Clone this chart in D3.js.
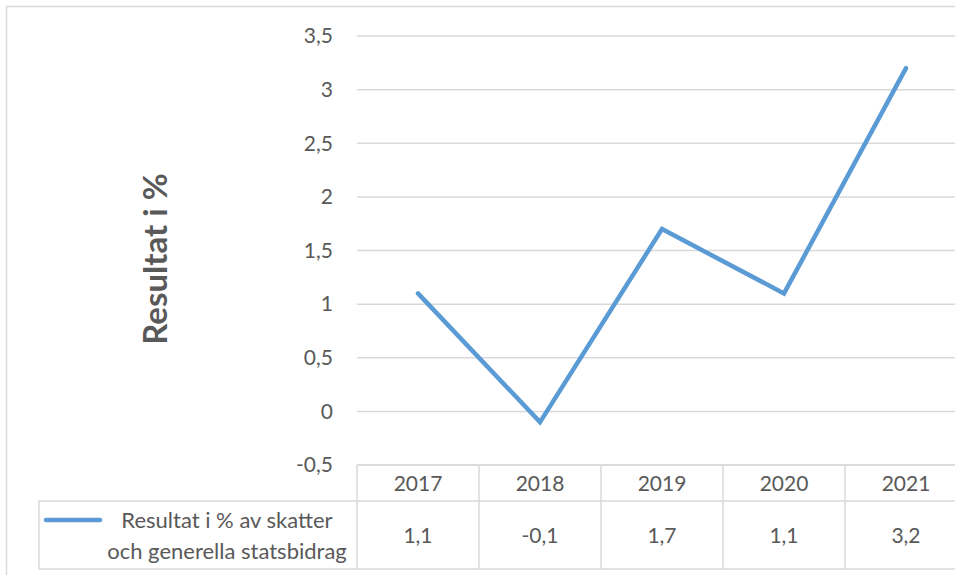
<!DOCTYPE html>
<html>
<head>
<meta charset="utf-8">
<script src="https://cdn.jsdelivr.net/npm/d3@7"></script>
<style>
  body { margin: 0; background: #fff; }
  svg { display: block; font-family: Lato, "Open Sans", sans-serif; }
</style>
</head>
<body>
<svg width="955" height="575"></svg>
<script>
const years = ["2017", "2018", "2019", "2020", "2021"];
const values = [1.1, -0.1, 1.7, 1.1, 3.2];
const valueLabels = ["1,1", "-0,1", "1,7", "1,1", "3,2"];
const yTicks = [-0.5, 0, 0.5, 1, 1.5, 2, 2.5, 3, 3.5];
const seriesName = ["Resultat i % av skatter", "och generella statsbidrag"];

const svg = d3.select("svg");
const grey = "#d9d9d9";
const textColor = "#595959";
const blue = "#5b9bd5";
const fs = 21;

// chart frame
svg.append("rect")
    .attr("x", 6.5).attr("y", 6.5)
    .attr("width", 1000).attr("height", 1000)
    .attr("fill", "none").attr("stroke", grey).attr("stroke-width", 1.5);

const plotLeft = 357, plotTop = 36, plotBottom = 465;
const band = 122;

const x = d3.scaleBand()
    .domain(years)
    .range([plotLeft, plotLeft + band * years.length]);

const y = d3.scaleLinear()
    .domain([-0.5, 3.5])
    .range([plotBottom, plotTop]);

// gridlines
svg.append("g")
    .selectAll("line")
    .data(yTicks)
    .enter().append("line")
    .attr("x1", plotLeft).attr("x2", x.range()[1])
    .attr("y1", d => y(d)).attr("y2", d => y(d))
    .attr("stroke", grey).attr("stroke-width", 1.5);

// y tick labels
svg.append("g")
    .selectAll("text")
    .data(yTicks)
    .enter().append("text")
    .attr("x", 333)
    .attr("y", d => y(d))
    .attr("dy", "0.35em")
    .attr("text-anchor", "end")
    .attr("font-size", fs)
    .attr("fill", textColor)
    .text(d => String(d).replace(".", ","));

// y title
svg.append("text")
    .attr("transform", "translate(167,259) rotate(-90)")
    .attr("text-anchor", "middle")
    .attr("font-size", 33)
    .attr("font-weight", "bold")
    .attr("fill", textColor)
    .text("Resultat i %");

// line
const line = d3.line()
    .x((d, i) => x(years[i]) + x.bandwidth() / 2)
    .y(d => y(d));

svg.append("path")
    .datum(values)
    .attr("d", line)
    .attr("fill", "none")
    .attr("stroke", blue)
    .attr("stroke-width", 4.5)
    .attr("stroke-linejoin", "miter")
    .attr("stroke-linecap", "round");

// data table
const rowTop = 501, rowBottom = 569, tableLeft = 39;
const table = svg.append("g")
    .attr("stroke", grey).attr("stroke-width", 1.5).attr("fill", "none");

table.append("line").attr("x1", plotLeft).attr("x2", x.range()[1])
    .attr("y1", plotBottom).attr("y2", plotBottom);
table.append("line").attr("x1", tableLeft).attr("x2", x.range()[1])
    .attr("y1", rowTop).attr("y2", rowTop);
table.append("line").attr("x1", tableLeft).attr("x2", x.range()[1])
    .attr("y1", rowBottom).attr("y2", rowBottom);
table.append("line").attr("x1", tableLeft).attr("x2", tableLeft)
    .attr("y1", rowTop).attr("y2", rowBottom);
table.selectAll(".col")
    .data(years.concat(["end"]))
    .enter().append("line")
    .attr("x1", (d, i) => plotLeft + band * i).attr("x2", (d, i) => plotLeft + band * i)
    .attr("y1", plotBottom).attr("y2", rowBottom);

svg.append("g")
    .selectAll("text")
    .data(years)
    .enter().append("text")
    .attr("x", d => x(d) + x.bandwidth() / 2)
    .attr("y", (plotBottom + rowTop) / 2 + 1)
    .attr("dy", "0.35em")
    .attr("text-anchor", "middle")
    .attr("font-size", fs)
    .attr("fill", textColor)
    .text(d => d);

svg.append("g")
    .selectAll("text")
    .data(valueLabels)
    .enter().append("text")
    .attr("x", (d, i) => x(years[i]) + x.bandwidth() / 2)
    .attr("y", (rowTop + rowBottom) / 2 + 1)
    .attr("dy", "0.35em")
    .attr("text-anchor", "middle")
    .attr("font-size", fs)
    .attr("fill", textColor)
    .text(d => d);

// legend key
svg.append("line")
    .attr("x1", 46).attr("x2", 100)
    .attr("y1", 520).attr("y2", 520)
    .attr("stroke", blue).attr("stroke-width", 4.5)
    .attr("stroke-linecap", "round");

svg.append("g")
    .selectAll("text")
    .data(seriesName)
    .enter().append("text")
    .attr("x", 227)
    .attr("y", (d, i) => 520 + i * 31)
    .attr("dy", "0.35em")
    .attr("text-anchor", "middle")
    .attr("font-size", 22)
    .attr("fill", textColor)
    .text(d => d);
</script>
</body>
</html>
